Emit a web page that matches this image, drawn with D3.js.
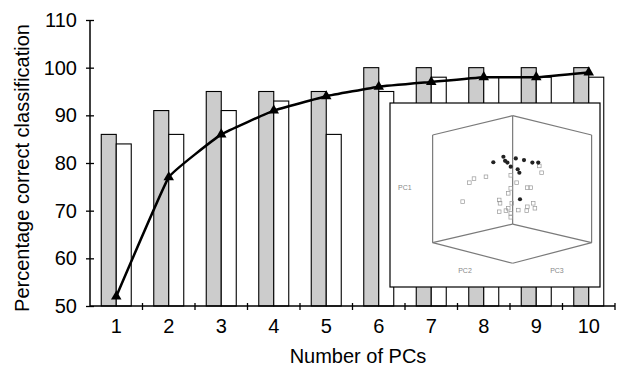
<!DOCTYPE html>
<html lang="en">
  <head>
    <meta charset="utf-8">
    <script src="https://cdn.jsdelivr.net/npm/d3@7/dist/d3.min.js"></script>
    <style>
      body { margin: 0; background: #fff; }
      text { font-family: "Liberation Sans", Arial, sans-serif; }
    </style>
  </head>
  <body>
    <svg id="chart"></svg>
  </body>
  <script>

    // main chart data
    var pcs = [1, 2, 3, 4, 5, 6, 7, 8, 9, 10];
    var greyBars = [86, 91, 95, 95, 95, 100, 100, 100, 100, 100];
    var whiteBars = [84, 86, 91, 93, 86, 95, 98, 98, 98, 98];
    var lineVals = [52, 77, 86, 91, 94, 96, 97, 98, 98, 99];
    var yTicks = [50, 60, 70, 80, 90, 100, 110];

    // inset (3D score plot), in 0-100 inset units
    var cubeEdges = [
      [[58.4, 6.9], [20.3, 17.4]], [[58.4, 6.9], [96.0, 17.4]],
      [[58.4, 6.9], [58.4, 65.8]], [[20.3, 17.4], [20.3, 75.9]],
      [[96.0, 17.4], [96.0, 75.9]], [[20.3, 75.9], [58.4, 65.8]],
      [[58.4, 65.8], [96.0, 75.9]], [[20.3, 75.9], [58.4, 87.1]],
      [[58.4, 87.1], [96.0, 75.9]]
    ];
    var dotsU = [49.2, 54.0, 54.8, 55.9, 57.5, 59.9, 60.8, 61.6, 63.8, 67.8, 70.6, 61.9];
    var dotsV = [32.2, 29.2, 31.4, 32.4, 34.6, 30.1, 36.0, 37.9, 31.0, 32.4, 32.4, 52.3];
    var squaresU = [40.0, 37.8, 45.7, 57.5, 72.2, 71.1, 60.3, 57.5, 65.4, 67.0, 56.3, 34.6, 52.0,
                    52.4, 58.0, 56.3, 55.2, 52.0, 57.5, 57.5, 61.1, 65.4, 65.1, 68.2, 69.0];
    var squaresV = [41.1, 43.3, 40.1, 39.3, 37.9, 34.2, 43.3, 46.4, 46.0, 46.0, 49.1, 53.6, 52.7,
                    54.5, 54.5, 57.2, 58.5, 59.1, 59.9, 62.1, 58.2, 56.4, 58.5, 54.5, 57.2];
    var insetLabels = [
      { t: 'PC1', u: 7.1, v: 46.2 },
      { t: 'PC2', u: 35.7, v: 90.8 },
      { t: 'PC3', u: 79.5, v: 90.8 }
    ];

    var width = 618, height = 370;
    var svg = d3.select('#chart').attr('width', width).attr('height', height);

    var x = d3.scaleBand().domain(pcs).range([90, 615]);
    var y = d3.scaleLinear().domain([50, 110]).range([306, 20]);
    var barW = 15;
    var cx = function(d) { return x(d) + x.bandwidth() / 2; };

    // bars
    svg.selectAll('rect.grey').data(pcs).enter()
      .append('rect')
      .attr('class', 'grey')
      .attr('x', function(d) { return cx(d) - barW; })
      .attr('y', function(d, i) { return y(greyBars[i]); })
      .attr('width', barW)
      .attr('height', function(d, i) { return y(50) - y(greyBars[i]); })
      .attr('fill', '#cccccc')
      .attr('stroke', '#000')
      .attr('stroke-width', 1.1);

    svg.selectAll('rect.white').data(pcs).enter()
      .append('rect')
      .attr('class', 'white')
      .attr('x', function(d) { return cx(d); })
      .attr('y', function(d, i) { return y(whiteBars[i]); })
      .attr('width', barW)
      .attr('height', function(d, i) { return y(50) - y(whiteBars[i]); })
      .attr('fill', '#fff')
      .attr('stroke', '#000')
      .attr('stroke-width', 1.1);

    // y axis
    var yAxis = svg.append('g')
      .attr('transform', 'translate(90,0)')
      .call(d3.axisLeft(y).tickValues(yTicks).tickSize(4).tickPadding(9));
    yAxis.select('.domain').attr('d', 'M0,' + y(110) + 'V' + y(50)).attr('stroke-width', 1.5);
    yAxis.selectAll('.tick line').attr('x1', 4).attr('stroke-width', 1.3);
    yAxis.selectAll('.tick text').attr('font-size', 20).attr('fill', '#000')
      .attr('font-family', '"Liberation Sans", Arial, sans-serif');

    // x axis: labels at centres, ticks at category boundaries
    var xAxis = svg.append('g')
      .attr('transform', 'translate(0,' + y(50) + ')')
      .call(d3.axisBottom(x).tickSize(0).tickPadding(13));
    xAxis.select('.domain').attr('d', 'M90,0H615').attr('stroke-width', 1.5);
    xAxis.selectAll('.tick text').attr('font-size', 20).attr('fill', '#000')
      .attr('font-family', '"Liberation Sans", Arial, sans-serif');
    xAxis.selectAll('line.bound').data(pcs).enter()
      .append('line')
      .attr('class', 'bound')
      .attr('x1', function(d) { return x(d) + x.bandwidth(); })
      .attr('x2', function(d) { return x(d) + x.bandwidth(); })
      .attr('y1', -3)
      .attr('y2', 4)
      .attr('stroke', '#000')
      .attr('stroke-width', 1.3);

    // inset
    var ix = d3.scaleLinear().domain([0, 100]).range([390, 600]);
    var iy = d3.scaleLinear().domain([0, 100]).range([103, 287]);
    var inset = svg.append('g');
    inset.append('rect')
      .attr('x', ix(0)).attr('y', iy(0))
      .attr('width', ix(100) - ix(0)).attr('height', iy(100) - iy(0))
      .attr('fill', '#fff').attr('stroke', '#000').attr('stroke-width', 1.2);
    inset.selectAll('line.cube').data(cubeEdges).enter()
      .append('line')
      .attr('class', 'cube')
      .attr('x1', function(d) { return ix(d[0][0]); })
      .attr('y1', function(d) { return iy(d[0][1]); })
      .attr('x2', function(d) { return ix(d[1][0]); })
      .attr('y2', function(d) { return iy(d[1][1]); })
      .attr('stroke', '#7a7a7a')
      .attr('stroke-width', 1.2);
    inset.selectAll('rect.sq').data(squaresU).enter()
      .append('rect')
      .attr('class', 'sq')
      .attr('x', function(d) { return ix(d) - 1.8; })
      .attr('y', function(d, i) { return iy(squaresV[i]) - 1.8; })
      .attr('width', 3.6).attr('height', 3.6)
      .attr('fill', 'none').attr('stroke', '#999').attr('stroke-width', 0.7);
    inset.selectAll('circle.dot').data(dotsU).enter()
      .append('circle')
      .attr('class', 'dot')
      .attr('cx', function(d) { return ix(d); })
      .attr('cy', function(d, i) { return iy(dotsV[i]); })
      .attr('r', 2.1)
      .attr('fill', '#222');
    inset.selectAll('text.lab').data(insetLabels).enter()
      .append('text')
      .attr('class', 'lab')
      .attr('x', function(d) { return ix(d.u); })
      .attr('y', function(d) { return iy(d.v); })
      .attr('text-anchor', 'middle')
      .attr('dy', '0.35em')
      .attr('font-size', 7)
      .attr('fill', '#888')
      .text(function(d) { return d.t; });

    // line with triangles
    var line = d3.line()
      .x(function(d) { return cx(d); })
      .y(function(d, i) { return y(lineVals[i]); })
      .curve(d3.curveCardinal.tension(0.75));
    svg.append('path')
      .datum(pcs)
      .attr('d', line)
      .attr('fill', 'none')
      .attr('stroke', '#000')
      .attr('stroke-width', 2.5);
    svg.selectAll('path.tri').data(pcs).enter()
      .append('path')
      .attr('class', 'tri')
      .attr('d', d3.symbol().type(d3.symbolTriangle).size(48))
      .attr('transform', function(d, i) { return 'translate(' + cx(d) + ',' + y(lineVals[i]) + ')'; })
      .attr('fill', '#000');

    // axis titles
    svg.append('text')
      .attr('x', 358).attr('y', 363)
      .attr('text-anchor', 'middle')
      .attr('font-size', 20)
      .text('Number of PCs');
    svg.append('text')
      .attr('transform', 'translate(29,168) rotate(-90)')
      .attr('text-anchor', 'middle')
      .attr('font-size', 20)
      .text('Percentage correct classification');

  </script>
</html>
